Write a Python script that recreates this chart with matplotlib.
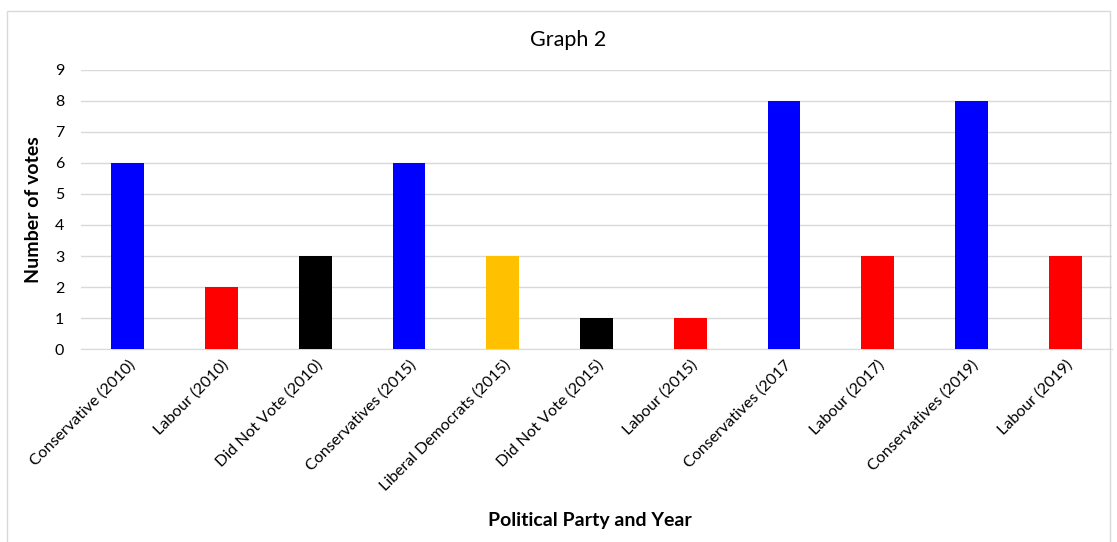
import matplotlib
matplotlib.use("Agg")
import matplotlib.pyplot as plt
from matplotlib.patches import Rectangle

plt.rcParams["font.family"] = ["Lato", "DejaVu Sans"]

categories = [
    "Conservative (2010)",
    "Labour (2010)",
    "Did Not Vote (2010)",
    "Conservatives (2015)",
    "Liberal Democrats (2015)",
    "Did Not Vote (2015)",
    "Labour (2015)",
    "Conservatives (2017",
    "Labour (2017)",
    "Conservatives (2019)",
    "Labour (2019)",
]
votes = [6, 2, 3, 6, 3, 1, 1, 8, 3, 8, 3]
bar_colors = ["#0000FF", "#FF0000", "#000000", "#0000FF", "#FFC000",
              "#000000", "#FF0000", "#0000FF", "#FF0000", "#0000FF", "#FF0000"]
y_ticks = list(range(0, 10))

fig = plt.figure(figsize=(11.17, 5.42), dpi=100)
ax = fig.add_axes([0.0725, 0.356, 0.923, 0.515])

x = list(range(len(categories)))
ax.bar(x, votes, width=0.35, color=bar_colors, zorder=3)

ax.set_xlim(-0.5, len(categories) - 0.5)
ax.set_ylim(0, 9)
ax.set_yticks(y_ticks)
ax.set_xticks(x)
ax.set_xticklabels(categories, rotation=45, ha="right", rotation_mode="anchor",
                   fontsize=11.5)
ax.tick_params(axis="y", labelsize=11.5, length=0, pad=12)
ax.tick_params(axis="x", length=0, pad=6)
ax.grid(axis="y", color="#d9d9d9", linewidth=1, zorder=0)
for side in ["top", "right", "left"]:
    ax.spines[side].set_visible(False)
ax.spines["bottom"].set_color("#d9d9d9")

ax.set_ylabel("Number of votes", fontsize=14, fontweight="bold", labelpad=9)
fig.text(0.528, 0.04, "Political Party and Year", fontsize=14, fontweight="bold",
         ha="center", va="center")
fig.text(0.509, 0.926, "Graph 2", fontsize=15.5, ha="center", va="center")

fig.patches.append(Rectangle((0.006, -0.01), 0.988, 0.99, transform=fig.transFigure,
                             fill=False, edgecolor="#d9d9d9", linewidth=1))

fig.savefig("out.png", dpi=100)
